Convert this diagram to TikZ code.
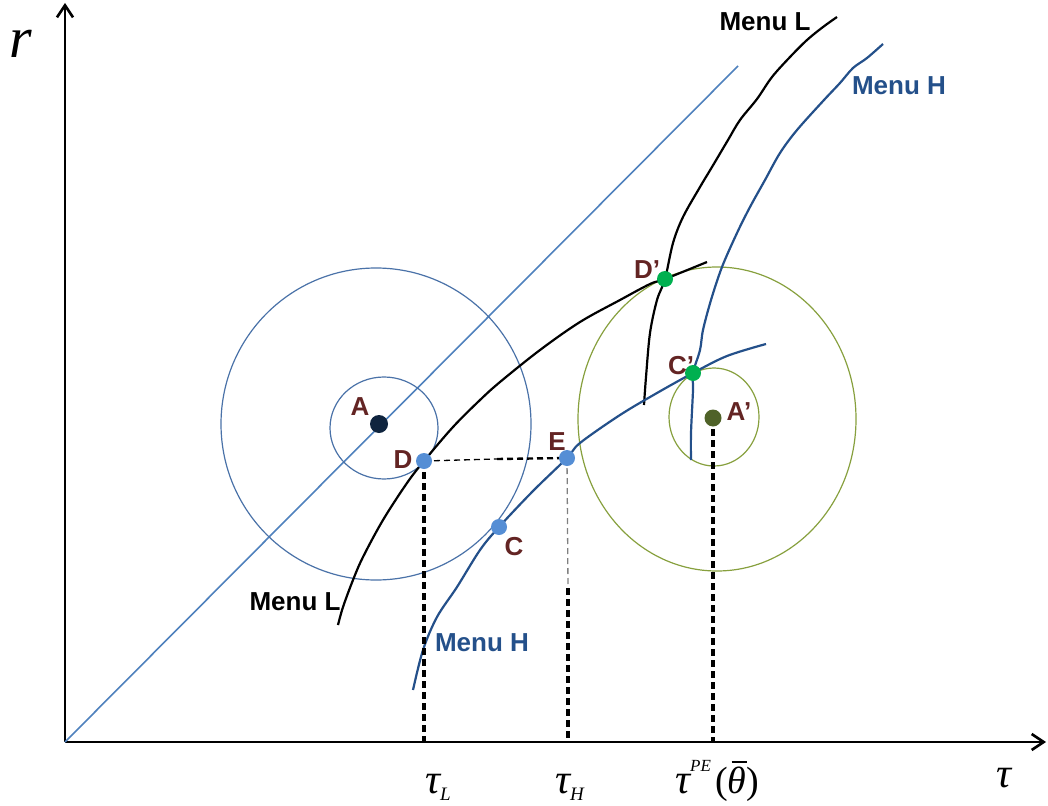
\documentclass[tikz,border=0pt]{standalone}
\usepackage{fontspec}
\setmainfont{Liberation Serif}
\newfontfamily\labfont{Liberation Sans}
\usepackage{tikz}
\usetikzlibrary{arrows.meta,positioning,calc}
\definecolor{LabRed}{HTML}{632423}
\definecolor{MenuBlue}{HTML}{24508A}
\definecolor{DiagBlue}{HTML}{4F81BD}
\definecolor{RingBlue}{HTML}{4A72A8}
\definecolor{RingOlive}{HTML}{87A03E}
\definecolor{PtBlue}{HTML}{558ED5}
\definecolor{PtGreen}{HTML}{00B050}
\definecolor{PtNavy}{HTML}{0F243E}
\definecolor{PtOlive}{HTML}{4F6228}

\tikzset{
  axis/.style={line width=2.6pt,-{Straight Barb[length=12pt,width=16pt]}},
  menucurve/.style={line width=2.2pt},
  ring/.style={line width=1.2pt},
  guide/.style={line width=3.2pt,dash pattern=on 7pt off 4pt},
  thinguide/.style={line width=1.3pt,dash pattern=on 6pt off 4pt},
  dotpt/.style={circle,inner sep=0pt,minimum size=16pt},
  ptlabel/.style={font=\labfont\bfseries\fontsize{26}{30}\selectfont,text=LabRed,inner sep=0pt},
  menulab/.style={font=\labfont\bfseries\fontsize{26}{30}\selectfont,inner sep=0pt},
  greek/.style={font=\fontsize{42}{46}\selectfont\itshape,inner sep=0pt}
}

\begin{document}
\begin{tikzpicture}[x=1pt,y=-1pt]
  \useasboundingbox (0,0) rectangle (1048,805);
  % key points
  \coordinate (origin) at (65,742);
  \coordinate (A) at (379,424);
  \coordinate (D) at (424,461);
  \coordinate (E) at (567,458);
  \coordinate (C) at (499,527);
  \coordinate (Dp) at (665,279);
  \coordinate (Cp) at (693,373);
  \coordinate (Ap) at (713,418);

  % axes and diagonal
  \draw[axis] (origin) -- (65,3);
  \draw[axis] (origin) -- (1046,742);
  \draw[DiagBlue,line width=1.6pt] (origin) -- (738,66);

  % indifference circles
  \draw[ring,RingBlue] (376,424) ellipse [x radius=155,y radius=156];
  \draw[ring,RingBlue] (384,428) ellipse [x radius=54,y radius=51];
  \draw[ring,RingOlive] (717,419) ellipse [x radius=139,y radius=152];
  \draw[ring,RingOlive] (714,417) ellipse [x radius=45,y radius=49];

  % menus
  \draw[menucurve,black] plot[smooth,tension=0.55] coordinates
    {(338,625) (343,607) (353,580) (363,557) (383,520) (407,483) (D) (453,427) (480,400) (500,382) (540,350) (580,322) (620,300) (650,284) (Dp) (707,262)};
  \draw[menucurve,black] plot[smooth,tension=0.55] coordinates
    {(644,405) (646,377) (650,333) (657,300) (Dp) (673,243) (683,217) (700,187) (712,167) (728,140) (740,120) (757,99) (772,77) (790,57) (807,40) (823,27) (837,17)};
  \draw[menucurve,MenuBlue] plot[smooth,tension=0.55] coordinates
    {(413,690) (423,650) (437,617) (457,587) (480,550) (C) (533,491) (E) (580,443) (620,415) (657,393) (Cp) (727,356) (766,344)};
  \draw[menucurve,MenuBlue] plot[smooth,tension=0.55] coordinates
    {(691,460) (691,433) (693,390) (Cp) (700,350) (703,330) (711,300) (722,267) (737,233) (750,207) (765,180) (780,153) (797,130) (824,100) (840,83) (853,68) (867,58) (883,44)};

  % guides to the axis
  \coordinate (DEmid) at (497,459);
  \draw[thinguide] (D) -- (DEmid);
  \draw[thinguide,line width=2.4pt] (DEmid) -- (E);
  \draw[guide] (D) -- (D |- origin);
  \coordinate (Ebreak) at (568,588);
  \draw[thinguide,gray] (E) -- (Ebreak);
  \draw[guide] (Ebreak) -- (Ebreak |- origin);
  \draw[guide] (Ap) -- (Ap |- origin);

  % points
  \node[dotpt,fill=PtNavy,minimum size=18pt] (ptA) at (A) {};
  \node[dotpt,fill=PtBlue] (ptD) at (D) {};
  \node[dotpt,fill=PtBlue] (ptE) at (E) {};
  \node[dotpt,fill=PtBlue] (ptC) at (C) {};
  \node[dotpt,fill=PtGreen] (ptDp) at (Dp) {};
  \node[dotpt,fill=PtGreen] (ptCp) at (Cp) {};
  \node[dotpt,fill=PtOlive,minimum size=17pt] (ptAp) at (Ap) {};

  % point labels
  \node[ptlabel] (labA) at (360,407) {A};
  \node[ptlabel] (labD) at (403,460) {D};
  \node[ptlabel] (labE) at (557,442) {E};
  \node[ptlabel] (labC) at (514,547) {C};
  \node[ptlabel] (labDp) at (647,270) {D’};
  \node[ptlabel] (labCp) at (681,366) {C’};
  \node[ptlabel] (labAp) at (739,412) {A’};

  % menu labels
  \node[menulab] (menuLtop) at (765,22) {Menu L};
  \node[menulab,text=MenuBlue] (menuHtop) at (899,86) {Menu H};
  \node[menulab] (menuLbot) at (295,602) {Menu L};
  \node[menulab,text=MenuBlue] (menuHbot) at (482,643) {Menu H};

  % axis labels
  \node[font=\fontsize{58}{60}\selectfont\itshape,inner sep=0pt,anchor=base] (labr) at (21,58) {r};
  \node[greek,anchor=base] (labtau) at (1004,787) {τ};
  \node[greek,anchor=base west] (tauL) at (425,793)
    {τ\raisebox{-7pt}{\fontsize{19}{19}\selectfont L}};
  \node[greek,anchor=base west] (tauH) at (555,793)
    {τ\raisebox{-7pt}{\fontsize{19}{19}\selectfont H}};
  \node[greek,anchor=base west] (tauPE) at (675,793)
    {τ\raisebox{22pt}{\fontsize{17}{17}\selectfont PE}\hspace{4pt}{\fontsize{38}{40}\selectfont\upshape(}\makebox[0pt][l]{\hspace{4pt}\raisebox{30pt}{\rule{15pt}{1.6pt}}}{\fontsize{38}{40}\selectfont θ}{\fontsize{38}{40}\selectfont\upshape)}};
\end{tikzpicture}
\end{document}
